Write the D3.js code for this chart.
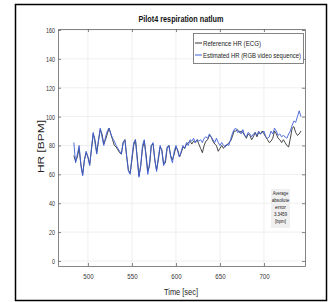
<!DOCTYPE html>
<html>
<head>
<meta charset="utf-8">
<script src="https://cdn.jsdelivr.net/npm/d3@7"></script>
<style>
  body { margin: 0; background: #fff; }
  text { font-family: "Liberation Sans Narrow", "Arial Narrow", "Liberation Sans", sans-serif; }
</style>
</head>
<body>
<div class="chart"></div>
<script>
// chart data
let times = [484, 486, 488, 490, 492, 494, 496, 498, 500, 502, 504, 506, 508, 510, 512, 514, 516, 518, 520, 522,
  524, 526, 528, 530, 532, 534, 536, 538, 540, 542, 544, 546, 548, 550, 552, 554, 556, 558, 560, 562,
  564, 566, 568, 570, 572, 574, 576, 578, 580, 582, 584, 586, 588, 590, 592, 594, 596, 598, 600, 602,
  604, 606, 608, 610, 612, 614, 616, 618, 620, 622, 624, 626, 628, 630, 632, 634, 636, 638, 640, 642,
  644, 646, 648, 650, 652, 654, 656, 658, 660, 662, 664, 666, 668, 670, 672, 674, 676, 678, 680, 682,
  684, 686, 688, 690, 692, 694, 696, 698, 700, 702, 704, 706, 708, 710, 712, 714, 716, 718, 720, 722,
  724, 726, 728, 730, 732, 734, 736, 738, 740, 742];

let referenceHR = [73, 69, 72, 78, 67, 60, 70, 75, 72, 67, 77, 88, 84, 75, 83, 91, 88, 81, 84, 88,
  92, 88, 84, 80, 79, 77, 75, 74, 82, 84, 73, 63, 61, 70, 80, 84, 72, 59, 66, 78,
  83, 74, 62, 66, 80, 81, 70, 63, 70, 79, 77, 67, 68, 78, 80, 73, 70, 74, 79, 77,
  72, 75, 79, 78, 81, 82, 83, 81, 83, 82, 84, 81, 78, 75, 80, 83, 84, 87, 86, 83,
  81, 80, 76, 78, 80, 78, 80, 80, 82, 83, 86, 90, 90, 91, 89, 90, 89, 87, 85, 88,
  87, 84, 86, 89, 86, 89, 88, 90, 88, 86, 84, 82, 83, 85, 90, 88, 85, 84, 82, 84,
  82, 80, 79, 85, 92, 93, 89, 87, 88, 90];

let estimatedHR = [82, 68, 74, 80, 66, 59, 70, 76, 72, 66, 78, 89, 82, 74, 84, 92, 86, 80, 86, 90,
  92, 88, 85, 83, 80, 78, 76, 74, 82, 84, 72, 62, 60, 72, 82, 84, 70, 58, 66, 80,
  84, 72, 60, 68, 80, 82, 70, 62, 72, 80, 76, 66, 70, 79, 80, 72, 68, 76, 80, 76,
  72, 76, 80, 78, 82, 80, 84, 83, 85, 82, 84, 83, 84, 82, 85, 86, 85, 88, 86, 84,
  82, 85, 82, 80, 82, 80, 79, 81, 80, 84, 88, 91, 92, 89, 90, 88, 91, 87, 86, 89,
  88, 86, 88, 89, 87, 90, 88, 89, 90, 86, 85, 86, 90, 88, 92, 90, 87, 88, 86, 87,
  86, 85, 88, 90, 94, 97, 96, 100, 104, 100];

let xTicks = [500, 550, 600, 650, 700];
let yTicks = [0, 20, 40, 60, 80, 100, 120, 140, 160];
let seriesNames = ["Reference HR (ECG)", "Estimated HR (RGB video sequence)"];
let errorLines = ["Average", "absolute", "error", "3.3459", "[bpm]"];

let svgWidth = 336;
let svgHeight = 302;
let margin = { top: 29, right: 31, bottom: 36, left: 58 };
let width = svgWidth - margin.left - margin.right;
let height = svgHeight - margin.top - margin.bottom;

let svg = d3.select(".chart")
  .append("svg")
  .attr("width", svgWidth)
  .attr("height", svgHeight);

// figure frame
svg.append("rect")
  .attr("x", 15.5).attr("y", 4.5)
  .attr("width", 311).attr("height", 296)
  .attr("fill", "#fff")
  .attr("stroke", "#000")
  .attr("stroke-width", 1.5);

let chartGroup = svg.append("g")
  .attr("transform", `translate(${margin.left}, ${margin.top})`);

let x = d3.scaleLinear().domain([466, 746.6]).range([0, width]);
let y = d3.scaleLinear().domain([-3.5, 160.7]).range([height, 0]);

// grid
chartGroup.append("g")
  .selectAll("line")
  .data(xTicks)
  .enter().append("line")
  .attr("x1", d => x(d)).attr("x2", d => x(d))
  .attr("y1", 0).attr("y2", height)
  .attr("stroke", "#ebebeb").attr("stroke-width", 0.8);

chartGroup.append("g")
  .selectAll("line")
  .data(yTicks)
  .enter().append("line")
  .attr("y1", d => y(d)).attr("y2", d => y(d))
  .attr("x1", 0).attr("x2", width)
  .attr("stroke", "#ebebeb").attr("stroke-width", 0.8);

// axes (MATLAB style, ticks inside)
let bottomAxis = d3.axisBottom(x).tickValues(xTicks).tickSizeInner(-3).tickSizeOuter(0).tickPadding(7);
let leftAxis = d3.axisLeft(y).tickValues(yTicks).tickSizeInner(-3).tickSizeOuter(0).tickPadding(3);
let topAxis = d3.axisTop(x).tickValues(xTicks).tickSizeInner(-3).tickSizeOuter(0).tickFormat("");
let rightAxis = d3.axisRight(y).tickValues(yTicks).tickSizeInner(-3).tickSizeOuter(0).tickFormat("");

let gx = chartGroup.append("g").attr("transform", `translate(0, ${height})`).call(bottomAxis);
let gy = chartGroup.append("g").call(leftAxis);
let gt = chartGroup.append("g").call(topAxis);
let gr = chartGroup.append("g").attr("transform", `translate(${width}, 0)`).call(rightAxis);

[gx, gy, gt, gr].forEach(g => {
  g.select(".domain").attr("stroke", "#666").attr("stroke-width", 0.8);
  g.selectAll(".tick line").attr("stroke", "#666").attr("stroke-width", 0.8);
});

gx.selectAll("text")
  .attr("fill", "#333").attr("font-size", 8)
  .attr("textLength", d => String(d).length * 3.4)
  .attr("lengthAdjust", "spacingAndGlyphs");
gy.selectAll("text")
  .attr("fill", "#333").attr("font-size", 7.5)
  .attr("textLength", d => String(d).length * 3)
  .attr("lengthAdjust", "spacingAndGlyphs");

// lines
let line = d3.line()
  .x((d, i) => x(times[i]))
  .y(d => y(d));

chartGroup.append("path")
  .datum(referenceHR)
  .attr("d", line)
  .attr("fill", "none")
  .attr("stroke", "#333")
  .attr("stroke-width", 0.9);

chartGroup.append("path")
  .datum(estimatedHR)
  .attr("d", line)
  .attr("fill", "none")
  .attr("stroke", "#3d5ed6")
  .attr("stroke-width", 0.9);

// legend
let legend = svg.append("g").attr("transform", "translate(193, 33)");
legend.append("rect")
  .attr("x", 0.5).attr("y", 0.5)
  .attr("width", 110).attr("height", 30)
  .attr("fill", "#fff").attr("stroke", "#666").attr("stroke-width", 0.8);

let legendColors = ["#333", "#3d5ed6"];
let legendWidths = [58, 98];
seriesNames.forEach((name, i) => {
  let ly = 10 + i * 12;
  legend.append("line")
    .attr("x1", 2).attr("x2", 9)
    .attr("y1", ly).attr("y2", ly)
    .attr("stroke", legendColors[i]).attr("stroke-width", 1);
  legend.append("text")
    .attr("x", 10).attr("y", ly + 2.8)
    .attr("font-size", 7.5)
    .attr("fill", "#222")
    .attr("textLength", legendWidths[i])
    .attr("lengthAdjust", "spacingAndGlyphs")
    .text(name);
});

// error annotation
let note = svg.append("g").attr("transform", "translate(271, 189)");
note.append("rect")
  .attr("width", 19).attr("height", 39)
  .attr("fill", "#f0f0f0");
errorLines.forEach((t, i) => {
  note.append("text")
    .attr("x", 9.5).attr("y", 6 + i * 7)
    .attr("text-anchor", "middle")
    .attr("font-size", 5.5)
    .attr("fill", "#222")
    .attr("textLength", t.length * 2.2)
    .attr("lengthAdjust", "spacingAndGlyphs")
    .text(t);
});

// title and axis labels
svg.append("text")
  .attr("x", 181).attr("y", 22)
  .attr("text-anchor", "middle")
  .attr("font-size", 9.5)
  .attr("font-weight", "bold")
  .attr("fill", "#111")
  .attr("textLength", 85)
  .attr("lengthAdjust", "spacingAndGlyphs")
  .text("Pilot4 respiration natlum");

svg.append("text")
  .attr("x", 181).attr("y", 295)
  .attr("text-anchor", "middle")
  .attr("font-size", 9.5)
  .attr("fill", "#222")
  .attr("textLength", 34)
  .attr("lengthAdjust", "spacingAndGlyphs")
  .text("Time [sec]");

svg.append("text")
  .attr("transform", "translate(44, 146.5) rotate(-90)")
  .attr("text-anchor", "middle")
  .attr("font-size", 9.5)
  .attr("fill", "#222")
  .attr("font-family", "'Liberation Sans', sans-serif")
  .attr("textLength", 53)
  .attr("lengthAdjust", "spacingAndGlyphs")
  .text("HR [BPM]");
</script>
</body>
</html>
